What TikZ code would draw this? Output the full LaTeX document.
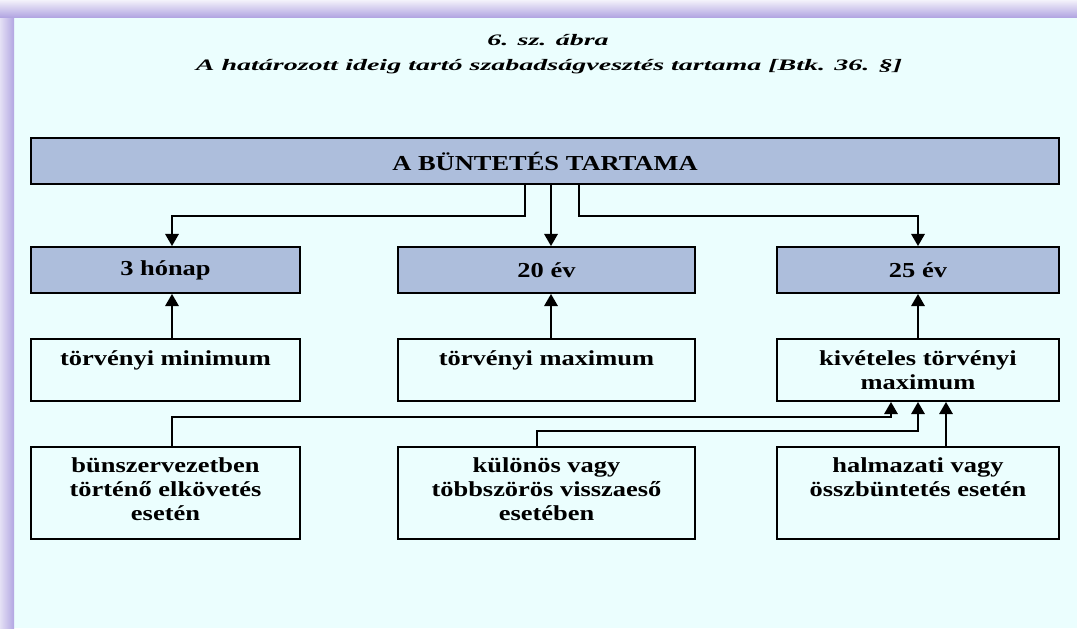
\documentclass[tikz,border=0pt]{standalone}
\usepackage{fontspec}
\setmainfont{Liberation Serif}[FakeStretch=1.24]
\newfontfamily\cimbetu{Liberation Serif}[FakeStretch=1.75]
\usepackage{tikz}
\usetikzlibrary{arrows}
\usetikzlibrary{positioning}
\definecolor{hatter}{RGB}{235,254,254}
\definecolor{kekdoboz}{RGB}{173,190,220}
\definecolor{lila}{RGB}{178,166,226}
\newcommand{\tobbsor}[1]{\parbox[t]{230pt}{\centering #1}}

\begin{document}
\begin{tikzpicture}[x=0.75pt, y=-0.75pt,
    doboz/.style = {draw, line width=1.5pt, rectangle, inner sep=0pt},
    kek/.style = {doboz, fill=kekdoboz, font=\bfseries\fontsize{16}{18}\selectfont},
    feher/.style = {doboz, fill=hatter},
    szoveg/.style = {inner sep=0pt, anchor=base, font=\bfseries\fontsize{16}{18}\selectfont},
    cim/.style = {font=\cimbetu\bfseries\itshape\fontsize{12}{14}\selectfont},
    nyil/.style = {line width=1.5pt, -triangle 60}]
      \useasboundingbox (0, 0) rectangle (1077, 628);
      \fill [hatter] (0, 0) rectangle (1077, 628);
      \shade [left color=white!65!lila, right color=lila] (0, 0) rectangle (14, 628);
      \shade [top color=white!85!lila, bottom color=lila] (0, 0) rectangle (1077, 17);

      \node [cim] (abra) at (548, 40) {6. sz. ábra};
      \node [cim] (cimsor) at (549, 67) {A határozott ideig tartó szabadságvesztés tartama [Btk. 36. §]};

      % dobozok
      \node [kek, minimum width=771pt, minimum height=34.5pt] (tartam) at (545, 161) {A BÜNTETÉS TARTAMA};
      \node [kek, minimum width=201.75pt, minimum height=34.5pt] (honap) at (165.5, 270) {3 hónap};
      \node [kek, minimum width=222.75pt, minimum height=34.5pt] (ev20) at (546.5, 270) {20 év};
      \node [kek, minimum width=211.5pt, minimum height=34.5pt] (ev25) at (918, 270) {25 év};
      \node [feher, minimum width=201.75pt, minimum height=46.5pt] (min) at (165.5, 370) {};
      \node [feher, minimum width=222.75pt, minimum height=46.5pt] (max) at (546.5, 370) {};
      \node [feher, minimum width=211.5pt, minimum height=46.5pt] (kivmax) at (918, 370) {};
      \node [feher, minimum width=201.75pt, minimum height=69pt] (bunszerv) at (165.5, 493) {};
      \node [feher, minimum width=222.75pt, minimum height=69pt] (visszaeso) at (546.5, 493) {};
      \node [feher, minimum width=211.5pt, minimum height=69pt] (halmazat) at (918, 493) {};

      \node [szoveg] (tmin) at ([yshift=-20.25pt]min.north) {\tobbsor{törvényi minimum}};
      \node [szoveg] (tmax) at ([yshift=-20.25pt]max.north) {\tobbsor{törvényi maximum}};
      \node [szoveg] (tkiv) at ([yshift=-20.25pt]kivmax.north) {\tobbsor{kivételes törvényi\\maximum}};
      \node [szoveg] (tbun) at ([yshift=-19.5pt]bunszerv.north) {\tobbsor{bünszervezetben\\történő elkövetés\\esetén}};
      \node [szoveg] (tvissza) at ([yshift=-19.5pt]visszaeso.north) {\tobbsor{különös vagy\\többszörös visszaeső\\esetében}};
      \node [szoveg] (thalm) at ([yshift=-19.5pt]halmazat.north) {\tobbsor{halmazati vagy\\összbüntetés esetén}};

      % nyilak
      \coordinate (bal) at (172, 216);
      \coordinate (kozep) at (551, 216);
      \coordinate (jobb) at (918, 216);
      \coordinate (le1) at (525, 216);
      \coordinate (le3) at (579, 216);
      \coordinate (sor1) at (172, 417);
      \coordinate (cel1) at (891, 417);
      \coordinate (sor2) at (537, 431);
      \coordinate (cel2) at (918, 431);
      \coordinate (cel3) at (946, 417);

      \draw [nyil] (tartam.south -| le1) -- (le1) -- (bal) -- (honap.north -| bal);
      \draw [nyil] (tartam.south -| kozep) -- (ev20.north -| kozep);
      \draw [nyil] (tartam.south -| le3) -- (le3) -- (jobb) -- (ev25.north -| jobb);
      \draw [nyil] (min.north -| bal) -- (honap.south -| bal);
      \draw [nyil] (max.north -| kozep) -- (ev20.south -| kozep);
      \draw [nyil] (kivmax.north) -- (ev25.south);
      \draw [nyil] (bunszerv.north -| sor1) -- (sor1) -- (cel1) -- (kivmax.south -| cel1);
      \draw [nyil] (visszaeso.north -| sor2) -- (sor2) -- (cel2) -- (kivmax.south -| cel2);
      \draw [nyil] (halmazat.north -| cel3) -- (kivmax.south -| cel3);
    \end{tikzpicture}
\end{document}
